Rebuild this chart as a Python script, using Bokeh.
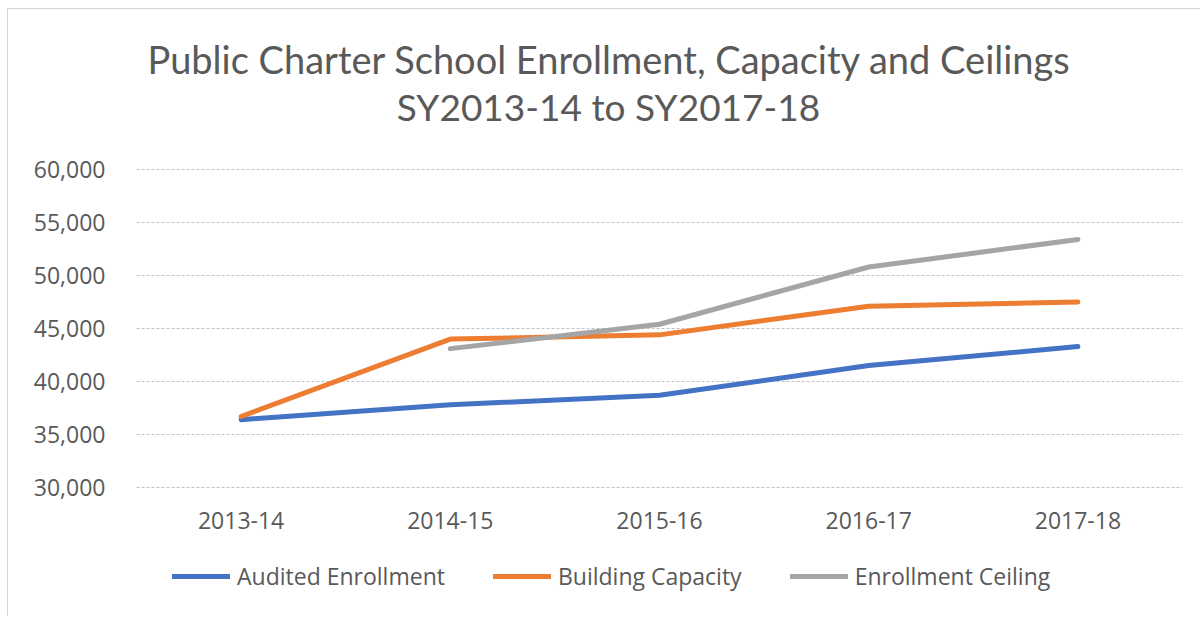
from bokeh.plotting import figure
from bokeh.models import (Range1d, Legend, LegendItem, NumeralTickFormatter, FixedTicker,
                          LinearAxis, Label)
from bokeh.embed import file_html
from bokeh.resources import INLINE

# ---- data ----
categories = ["2013-14", "2014-15", "2015-16", "2016-17", "2017-18"]
audited_enrollment = [36400, 37800, 38700, 41500, 43300]
building_capacity = [36700, 44000, 44400, 47100, 47500]
enrollment_ceiling = [float("nan"), 43100, 45400, 50800, 53400]
y_ticks = [30000, 35000, 40000, 45000, 50000, 55000, 60000]
title_lines = ["Public Charter School Enrollment, Capacity and Ceilings", "SY2013-14 to SY2017-18"]

TEXT = "#595959"
FONT = "Open Sans"

# ---- layout (pixels) ----
W, H = 1200, 616
PLOT_L, PLOT_R, PLOT_T, PLOT_B = 136, 1182, 169, 487
n = len(categories)
xpos = list(range(n))
cat_w = (PLOT_R - PLOT_L) / n
x0_px = PLOT_L + cat_w / 2
x_start = (0 - x0_px) / cat_w
x_end = (W - x0_px) / cat_w
ymin, ymax = y_ticks[0], y_ticks[-1]
upp = (ymax - ymin) / (PLOT_B - PLOT_T)
y_end = ymax + PLOT_T * upp
y_start = ymin - (H - PLOT_B) * upp

p = figure(x_range=Range1d(x_start, x_end), y_range=Range1d(y_start, y_end),
           width=W, height=H, output_backend="svg", toolbar_location=None,
           x_axis_location=None, y_axis_location=None,
           min_border=0, min_border_left=0, min_border_right=0,
           min_border_top=0, min_border_bottom=0)
p.border_fill_alpha = 0
p.background_fill_alpha = 0
p.outline_line_color = None
p.grid.visible = False
p.styles = {
    "background-color": "white",
    "background-image": "linear-gradient(#d4d4d4,#d4d4d4), linear-gradient(#d4d4d4,#d4d4d4)",
    "background-size": "1px 100%, 100% 1px",
    "background-position": "7px 8px, 7px 8px",
    "background-repeat": "no-repeat",
}

# gridlines across the plot area only
p.segment(x0=[-0.5] * len(y_ticks), x1=[n - 0.5] * len(y_ticks), y0=y_ticks, y1=y_ticks,
          line_color="#c2c2c2", line_dash="3 2", line_width=1)

# axes drawn at fixed locations inside the frame
yaxis = LinearAxis(fixed_location=-0.5, ticker=FixedTicker(ticks=y_ticks),
                   formatter=NumeralTickFormatter(format="0,0"))
xaxis = LinearAxis(fixed_location=ymin, ticker=FixedTicker(ticks=xpos),
                   major_label_overrides={i: c for i, c in zip(xpos, categories)})
for ax in (xaxis, yaxis):
    ax.axis_line_color = None
    ax.major_tick_line_color = None
    ax.minor_tick_line_color = None
    ax.major_label_text_font = FONT
    ax.major_label_text_font_size = "23px"
    ax.major_label_text_color = TEXT
yaxis.major_label_standoff = 25
xaxis.major_label_standoff = 18
p.add_layout(yaxis, "left")
p.add_layout(xaxis, "below")

r1 = p.line(xpos, audited_enrollment, line_color="#4472C4", line_width=5, line_cap="round", line_join="round")
r2 = p.line(xpos, building_capacity, line_color="#ED7D31", line_width=5, line_cap="round", line_join="round")
r3 = p.line(xpos, enrollment_ceiling, line_color="#A5A5A5", line_width=5, line_cap="round", line_join="round")

legend = Legend(items=[LegendItem(label="Audited Enrollment", renderers=[r1]),
                       LegendItem(label="Building Capacity", renderers=[r2]),
                       LegendItem(label="Enrollment Ceiling", renderers=[r3])],
                orientation="horizontal", location=(172, 24),
                padding=0, margin=0, spacing=48, glyph_width=58, glyph_height=24,
                label_height=24, label_standoff=7, label_text_font=FONT,
                label_text_font_size="23px", label_text_baseline="middle",
                label_text_color=TEXT, border_line_color=None, background_fill_alpha=0)
p.add_layout(legend, "center")

# two-line title
p.add_layout(Label(x=609, y=H - 58, x_units="screen", y_units="screen", text=title_lines[0],
                   text_align="center", text_baseline="middle", text_font="Lato",
                   text_font_size="38px", text_color=TEXT))
p.add_layout(Label(x=608, y=H - 106, x_units="screen", y_units="screen", text=title_lines[1],
                   text_align="center", text_baseline="middle", text_font="Lato",
                   text_font_size="37px", text_color=TEXT))

open("out.html", "w").write(file_html(p, INLINE))
